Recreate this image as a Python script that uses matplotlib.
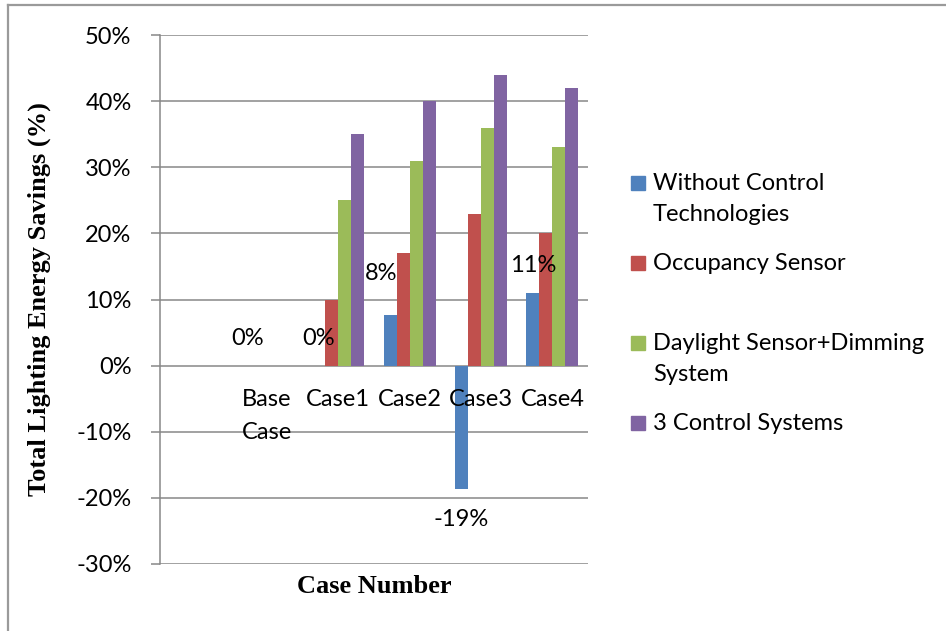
import numpy as np
import matplotlib
matplotlib.use('Agg')
import matplotlib.pyplot as plt
from matplotlib.ticker import PercentFormatter
from matplotlib.patches import Rectangle
from matplotlib.lines import Line2D

plt.rcParams['axes.unicode_minus'] = False

cases = ['Base\nCase', 'Case1', 'Case2', 'Case3', 'Case4']
series = ['Without Control\nTechnologies', 'Occupancy Sensor',
          'Daylight Sensor+Dimming\nSystem', '3 Control Systems']
colors = ['#4F81BD', '#C0504D', '#9BBB59', '#8064A2']

without_ctrl = [0.0, 0.0, 0.077, -0.187, 0.11]
occupancy = [0.0, 0.10, 0.17, 0.23, 0.20]
daylight = [0.0, 0.25, 0.31, 0.36, 0.33]
three_ctrl = [0.0, 0.35, 0.40, 0.44, 0.42]
values = [without_ctrl, occupancy, daylight, three_ctrl]

yticks = np.arange(-0.3, 0.51, 0.1)

grid_col = '#878787'
sans = 'Lato'
serif = 'Liberation Serif'
fs = 17

fig = plt.figure(figsize=(9.46, 6.31), dpi=100)
ax = fig.add_axes([160/946, 1-564/631, 428/946, 529/631])

x = np.arange(len(cases))
w = 0.182
for k, (vals, c) in enumerate(zip(values, colors)):
    ax.bar(x + (k - 1.5)*w, vals, width=w, color=c, linewidth=0, zorder=2)

ax.set_xlim(-1.5, len(cases) - 0.5)
ax.set_ylim(-0.3, 0.5)
ax.set_yticks(yticks)
ax.yaxis.set_major_formatter(PercentFormatter(1.0, decimals=0))
ax.set_xticks([])
ax.grid(axis='y', color=grid_col, linewidth=1.1)
ax.set_axisbelow(True)
for s in ['top', 'right', 'bottom']:
    ax.spines[s].set_visible(False)
ax.spines['left'].set_color(grid_col)
ax.spines['left'].set_linewidth(1.1)
ax.tick_params(axis='y', length=6.5, width=1.1, color=grid_col, pad=14,
               labelsize=fs)
for t in ax.get_yticklabels():
    t.set_fontfamily(sans)

# category names sit just under the zero line
for xi, name in zip(x, cases):
    ax.annotate(name, (xi, 0), xytext=(0, -23), textcoords='offset pixels',
                ha='center', va='top', fontsize=fs, family=sans,
                linespacing=1.72, zorder=5)

# data labels for the first series
nudge = {2: (-9, 14)}
for i, v in enumerate(without_ctrl):
    dx, dy = nudge.get(i, (0, 0))
    off = 27 if v >= 0 else -30
    ax.annotate('{:.0%}'.format(v), (x[i] - 1.5*w, v),
                xytext=(dx, off + dy), textcoords='offset pixels',
                ha='center', va='center', fontsize=fs, family=sans, zorder=5)

ax.set_xlabel('Case Number', family=serif, fontweight='bold', fontsize=19,
              labelpad=8)
ax.set_ylabel('Total Lighting Energy Savings (%)', family=serif,
              fontweight='bold', fontsize=19, labelpad=18)

# legend drawn by hand, one entry every 80 px
for k, (name, c) in enumerate(zip(series, colors)):
    yc = 1 - (183 + 80*k)/631
    fig.patches.append(Rectangle((631/946, yc - 7/631), 14/946, 14/631,
                                 transform=fig.transFigure, color=c))
    fig.text(653/946, yc + 10/631, name, family=sans, fontsize=fs,
             va='top', ha='left', linespacing=1.58)

# chart frame (only top and left edges fall inside the image)
fig.lines.append(Line2D([8/946, 8/946], [0, 1-5/631], transform=fig.transFigure,
                        color='#9a9a9a', linewidth=1.6))
fig.lines.append(Line2D([8/946, 1], [1-5/631, 1-5/631], transform=fig.transFigure,
                        color='#9a9a9a', linewidth=1.6))

fig.savefig('out.png', dpi=100)
